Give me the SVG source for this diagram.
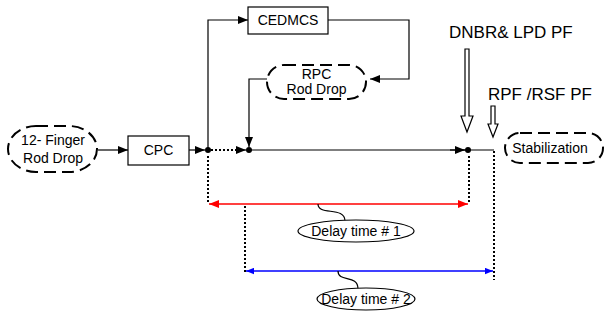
<svg xmlns="http://www.w3.org/2000/svg" width="605" height="320" viewBox="0 0 605 320">
<style>
  text { font-family: "Liberation Sans", Arial, sans-serif; fill: #000; }
  .lbl { font-size: 14px; text-anchor: middle; }
  .big { font-size: 17px; }
  .box { fill: #fff; stroke: #000; stroke-width: 1.2; }
  .dash { fill: #fff; stroke: #000; stroke-width: 2; stroke-dasharray: 12 6; }
  .ln { fill: none; stroke: #000; stroke-width: 1.2; }
  .dot { fill: none; stroke: #000; stroke-width: 2; stroke-dasharray: 2 2; }
  .ell { fill: #fff; stroke: #000; stroke-width: 1.2; }
  .hollow { fill: #fff; stroke: #000; stroke-width: 1.2; }
</style>
<defs>
  <marker id="ah" viewBox="0 0 10 8" refX="10" refY="4" markerWidth="10" markerHeight="8" markerUnits="userSpaceOnUse" orient="auto">
    <path d="M0,0 L10,4 L0,8 Z" fill="#000"/>
  </marker>
  <marker id="ahr" viewBox="0 0 10 8" refX="10" refY="4" markerWidth="10" markerHeight="8" markerUnits="userSpaceOnUse" orient="auto-start-reverse">
    <path d="M0,0 L10,4 L0,8 Z" fill="#f00"/>
  </marker>
  <marker id="ahb" viewBox="0 0 10 8" refX="10" refY="4" markerWidth="8" markerHeight="7" markerUnits="userSpaceOnUse" orient="auto-start-reverse">
    <path d="M0,0 L10,4 L0,8 Z" fill="#00f"/>
  </marker>
</defs>

<g id="connectors">
  <line class="ln" x1="98" y1="150" x2="128" y2="150" marker-end="url(#ah)"/>
  <line class="ln" x1="189" y1="150" x2="205" y2="150" marker-end="url(#ah)"/>
  <line class="dot" x1="211" y1="150" x2="240" y2="150"/>
  <line class="ln" x1="238" y1="150" x2="246" y2="150" marker-end="url(#ah)"/>
  <polyline class="ln" points="208,150 208,20 248,20" marker-end="url(#ah)"/>
  <polyline class="ln" points="328,20 409,20 409,79 370,79" marker-end="url(#ah)"/>
  <polyline class="ln" points="267,79 249,79 249,147" marker-end="url(#ah)"/>
  <line class="ln" x1="248" y1="150" x2="494" y2="150"/>
  <line class="ln" x1="450" y1="150" x2="465" y2="150" marker-end="url(#ah)"/>
  <circle cx="208" cy="150" r="3" fill="#000"/>
  <circle cx="249" cy="150" r="3" fill="#000"/>
  <circle cx="468" cy="150" r="3" fill="#000"/>
  <path class="hollow" d="M465,49 L469,49 L469,116 L473,116 L467,132 L461,116 L465,116 Z"/>
  <path class="hollow" d="M491,106 L495,106 L495,124 L498,124 L493,137 L488,124 L491,124 Z"/>
  <line class="dot" x1="208" y1="156" x2="208" y2="204"/>
  <line class="dot" x1="469" y1="156" x2="469" y2="202"/>
  <line class="dot" x1="245" y1="206" x2="245" y2="274"/>
  <line class="dot" x1="494" y1="151" x2="494" y2="280"/>
  <line x1="209" y1="204" x2="468" y2="204" stroke="#f00" stroke-width="1.5" marker-start="url(#ahr)" marker-end="url(#ahr)"/>
  <line x1="246" y1="271" x2="493" y2="271" stroke="#00f" stroke-width="1.5" marker-start="url(#ahb)" marker-end="url(#ahb)"/>
  <path class="ln" d="M318,204 C318,216 345,206 345,221"/>
  <path class="ln" d="M338,271 C338,283 358,274 358,289"/>
</g>

<g id="n-12finger">
  <rect class="dash" x="8" y="126" width="89" height="46" rx="28" ry="23"/>
  <text class="lbl" x="53" y="145">12- Finger</text>
  <text class="lbl" x="53" y="163">Rod Drop</text>
</g>

<g id="n-cpc">
  <rect class="box" x="128" y="136" width="61" height="29"/>
  <text class="lbl" x="158.5" y="155">CPC</text>
</g>

<g id="n-cedmcs">
  <rect class="box" x="248" y="7" width="80" height="27"/>
  <text class="lbl" x="288" y="25">CEDMCS</text>
</g>

<g id="n-rpc">
  <rect class="dash" x="267" y="65" width="99" height="34" rx="17" ry="17"/>
  <text class="lbl" x="316.5" y="79">RPC</text>
  <text class="lbl" x="316.5" y="94">Rod Drop</text>
</g>

<g id="n-stabilization">
  <rect class="dash" x="505" y="133" width="98" height="30" rx="15" ry="15"/>
  <text class="lbl" x="550" y="153">Stabilization</text>
</g>

<g id="n-dnbr">
  <text class="big" x="449" y="38">DNBR&amp; LPD PF</text>
</g>

<g id="n-rpf">
  <text class="big" x="488" y="100">RPF /RSF PF</text>
</g>

<g id="n-delay1">
  <ellipse class="ell" cx="356" cy="231" rx="58" ry="11"/>
  <text class="lbl" x="356" y="236">Delay time # 1</text>
</g>

<g id="n-delay2">
  <ellipse class="ell" cx="366" cy="299" rx="49" ry="11"/>
  <text class="lbl" x="366" y="304">Delay time # 2</text>
</g>
</svg>
